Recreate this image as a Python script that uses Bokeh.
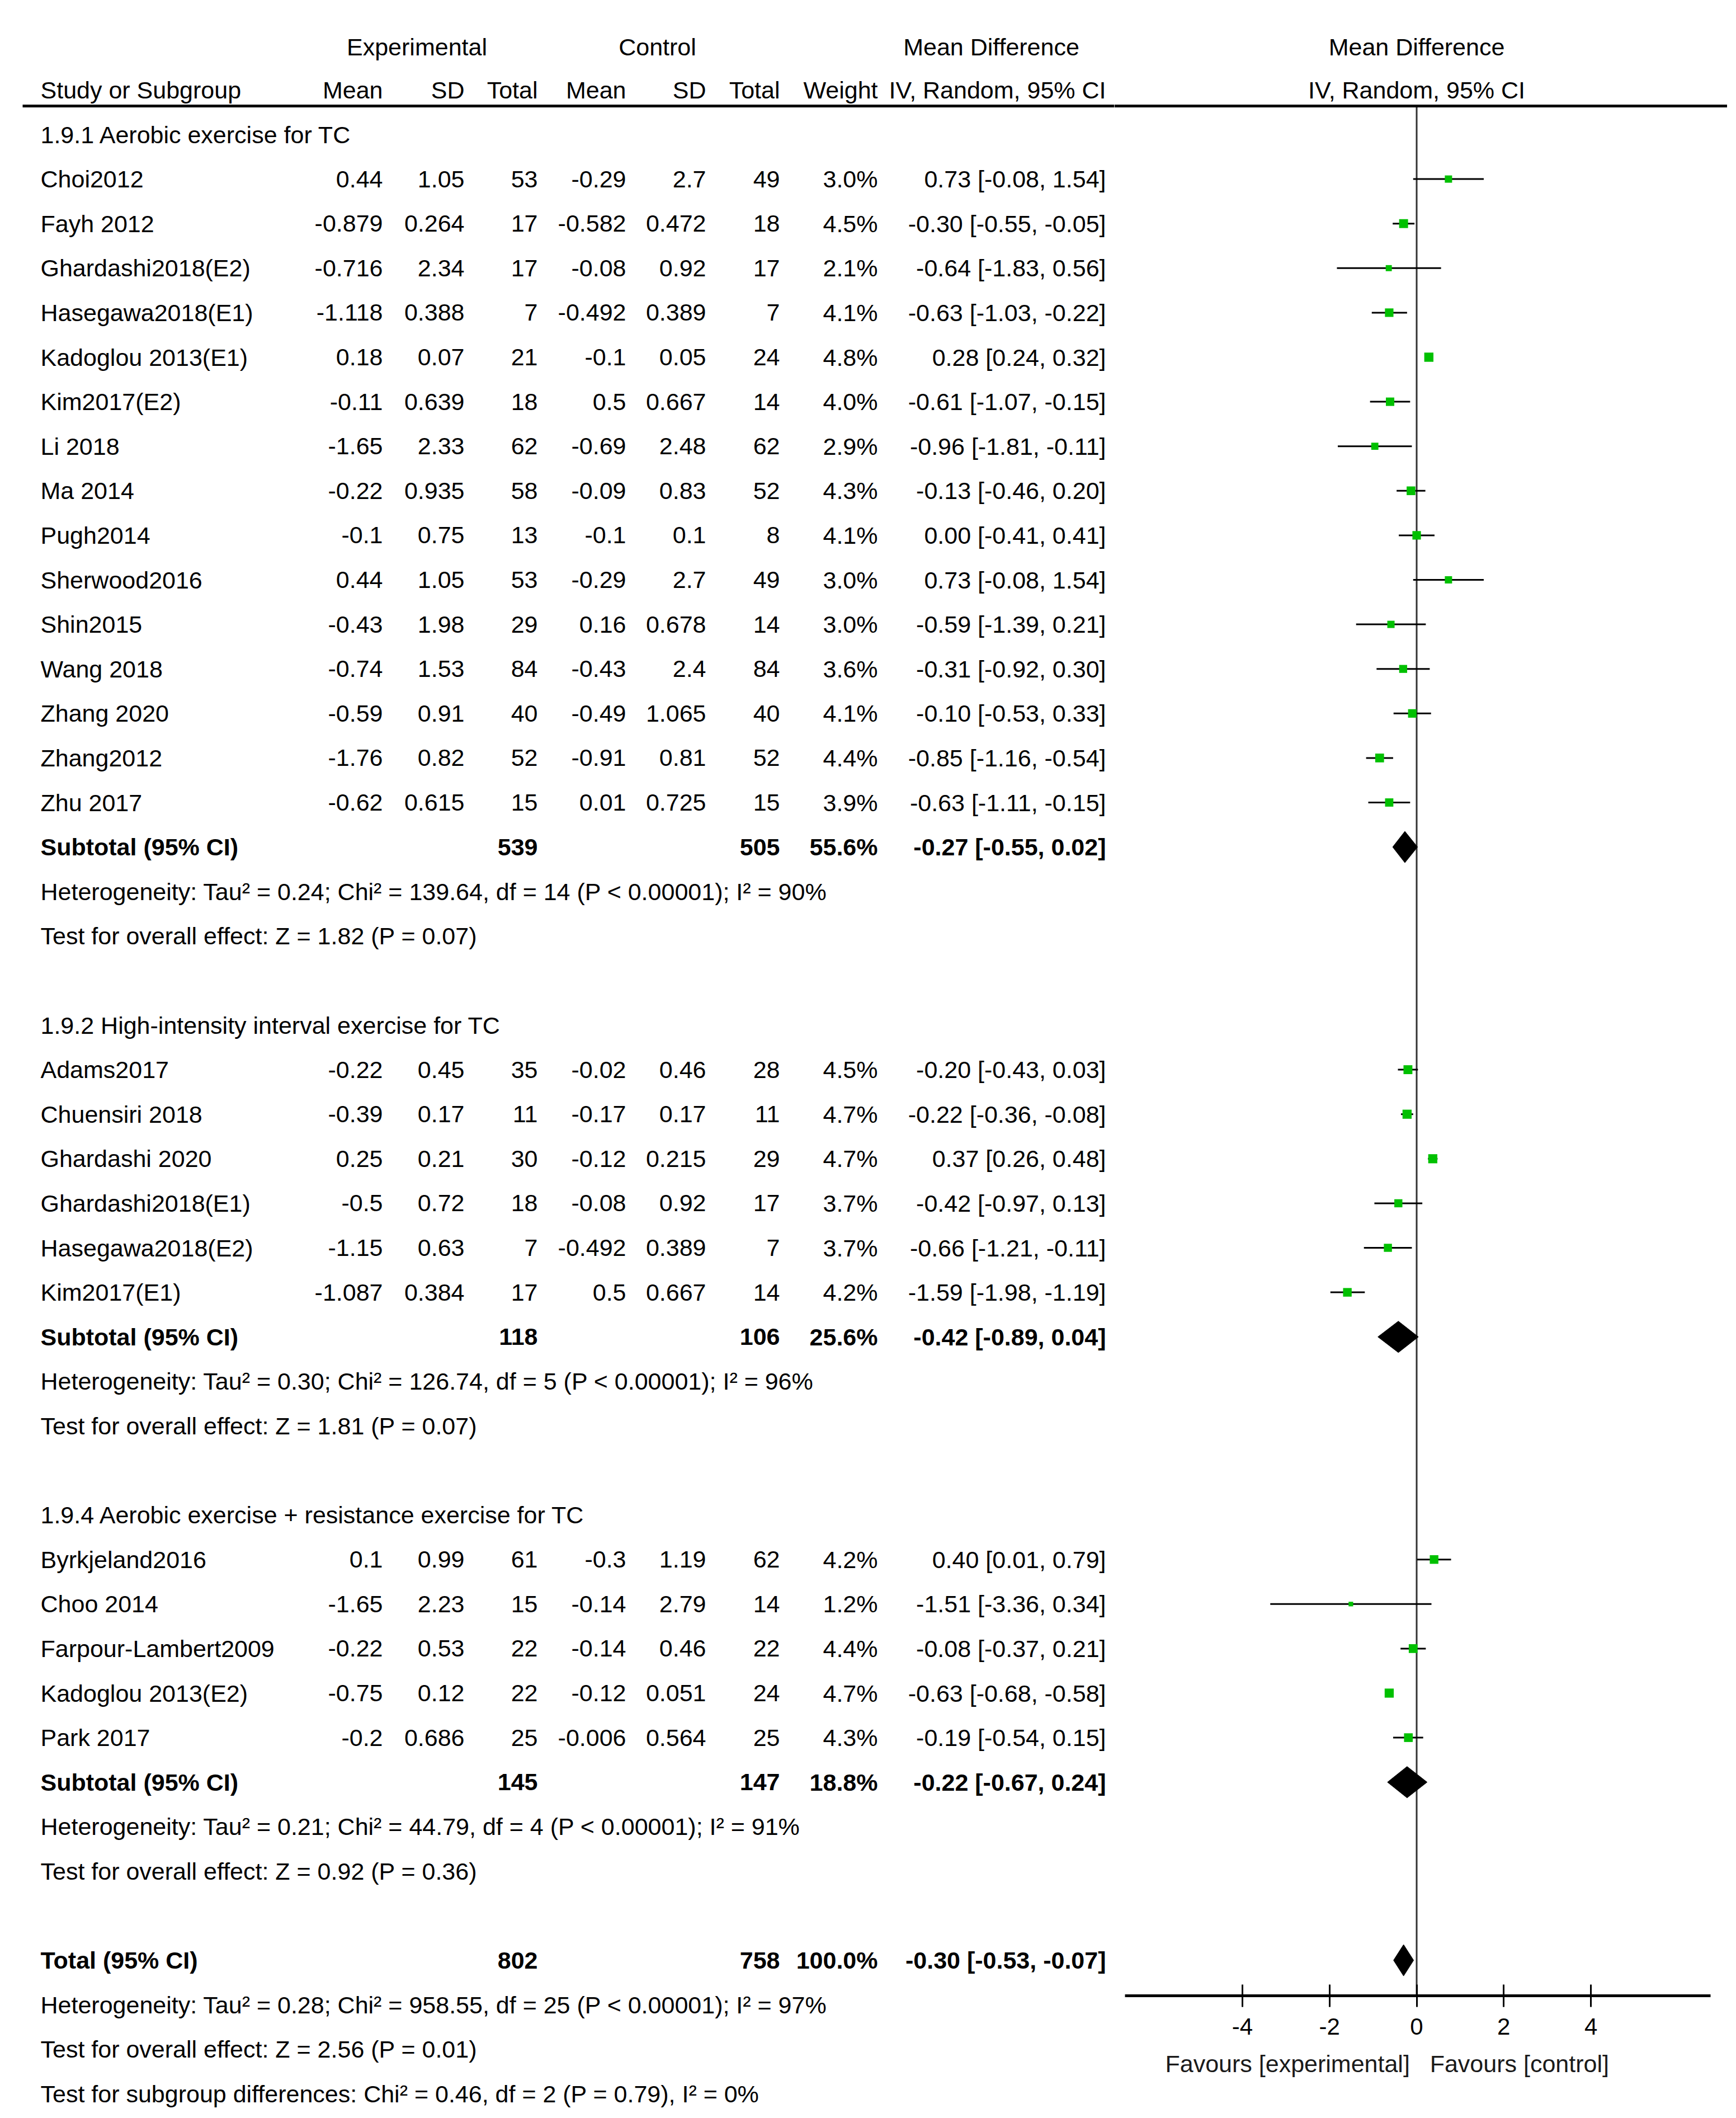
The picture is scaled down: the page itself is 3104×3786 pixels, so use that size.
from bokeh.plotting import figure
from bokeh.layouts import row
from bokeh.models import Range1d, ColumnDataSource, FixedTicker, Title, Span, LinearAxis
from bokeh.core.properties import value
from bokeh.embed import file_html
from bokeh.resources import INLINE
import math

FONT = "Liberation Sans"
FS = "43px"

# ---------------- data ----------------
sec_titles = ["1.9.1 Aerobic exercise for TC",
              "1.9.2 High-intensity interval exercise for TC",
              "1.9.4 Aerobic exercise + resistance exercise for TC"]

s1_study = ["Choi2012", "Fayh 2012", "Ghardashi2018(E2)", "Hasegawa2018(E1)", "Kadoglou 2013(E1)",
            "Kim2017(E2)", "Li 2018", "Ma 2014", "Pugh2014", "Sherwood2016", "Shin2015",
            "Wang 2018", "Zhang 2020", "Zhang2012", "Zhu 2017"]
s1_e_mean = [0.44, -0.879, -0.716, -1.118, 0.18, -0.11, -1.65, -0.22, -0.1, 0.44, -0.43, -0.74, -0.59, -1.76, -0.62]
s1_e_sd = [1.05, 0.264, 2.34, 0.388, 0.07, 0.639, 2.33, 0.935, 0.75, 1.05, 1.98, 1.53, 0.91, 0.82, 0.615]
s1_e_n = [53, 17, 17, 7, 21, 18, 62, 58, 13, 53, 29, 84, 40, 52, 15]
s1_c_mean = [-0.29, -0.582, -0.08, -0.492, -0.1, 0.5, -0.69, -0.09, -0.1, -0.29, 0.16, -0.43, -0.49, -0.91, 0.01]
s1_c_sd = [2.7, 0.472, 0.92, 0.389, 0.05, 0.667, 2.48, 0.83, 0.1, 2.7, 0.678, 2.4, 1.065, 0.81, 0.725]
s1_c_n = [49, 18, 17, 7, 24, 14, 62, 52, 8, 49, 14, 84, 40, 52, 15]
s1_w = [3.0, 4.5, 2.1, 4.1, 4.8, 4.0, 2.9, 4.3, 4.1, 3.0, 3.0, 3.6, 4.1, 4.4, 3.9]
s1_md = [0.73, -0.30, -0.64, -0.63, 0.28, -0.61, -0.96, -0.13, 0.00, 0.73, -0.59, -0.31, -0.10, -0.85, -0.63]
s1_lo = [-0.08, -0.55, -1.83, -1.03, 0.24, -1.07, -1.81, -0.46, -0.41, -0.08, -1.39, -0.92, -0.53, -1.16, -1.11]
s1_hi = [1.54, -0.05, 0.56, -0.22, 0.32, -0.15, -0.11, 0.20, 0.41, 1.54, 0.21, 0.30, 0.33, -0.54, -0.15]

s2_study = ["Adams2017", "Chuensiri 2018", "Ghardashi 2020", "Ghardashi2018(E1)", "Hasegawa2018(E2)", "Kim2017(E1)"]
s2_e_mean = [-0.22, -0.39, 0.25, -0.5, -1.15, -1.087]
s2_e_sd = [0.45, 0.17, 0.21, 0.72, 0.63, 0.384]
s2_e_n = [35, 11, 30, 18, 7, 17]
s2_c_mean = [-0.02, -0.17, -0.12, -0.08, -0.492, 0.5]
s2_c_sd = [0.46, 0.17, 0.215, 0.92, 0.389, 0.667]
s2_c_n = [28, 11, 29, 17, 7, 14]
s2_w = [4.5, 4.7, 4.7, 3.7, 3.7, 4.2]
s2_md = [-0.20, -0.22, 0.37, -0.42, -0.66, -1.59]
s2_lo = [-0.43, -0.36, 0.26, -0.97, -1.21, -1.98]
s2_hi = [0.03, -0.08, 0.48, 0.13, -0.11, -1.19]

s3_study = ["Byrkjeland2016", "Choo 2014", "Farpour-Lambert2009", "Kadoglou 2013(E2)", "Park 2017"]
s3_e_mean = [0.1, -1.65, -0.22, -0.75, -0.2]
s3_e_sd = [0.99, 2.23, 0.53, 0.12, 0.686]
s3_e_n = [61, 15, 22, 22, 25]
s3_c_mean = [-0.3, -0.14, -0.14, -0.12, -0.006]
s3_c_sd = [1.19, 2.79, 0.46, 0.051, 0.564]
s3_c_n = [62, 14, 22, 24, 25]
s3_w = [4.2, 1.2, 4.4, 4.7, 4.3]
s3_md = [0.40, -1.51, -0.08, -0.63, -0.19]
s3_lo = [0.01, -3.36, -0.37, -0.68, -0.54]
s3_hi = [0.79, 0.34, 0.21, -0.58, 0.15]

sub_e_n = [539, 118, 145]
sub_c_n = [505, 106, 147]
sub_w = [55.6, 25.6, 18.8]
sub_md = [-0.27, -0.42, -0.22]
sub_lo = [-0.55, -0.89, -0.67]
sub_hi = [0.02, 0.04, 0.24]
sub_het = ["Heterogeneity: Tau\u00b2 = 0.24; Chi\u00b2 = 139.64, df = 14 (P < 0.00001); I\u00b2 = 90%",
           "Heterogeneity: Tau\u00b2 = 0.30; Chi\u00b2 = 126.74, df = 5 (P < 0.00001); I\u00b2 = 96%",
           "Heterogeneity: Tau\u00b2 = 0.21; Chi\u00b2 = 44.79, df = 4 (P < 0.00001); I\u00b2 = 91%"]
sub_test = ["Test for overall effect: Z = 1.82 (P = 0.07)",
            "Test for overall effect: Z = 1.81 (P = 0.07)",
            "Test for overall effect: Z = 0.92 (P = 0.36)"]

tot_e_n = 802
tot_c_n = 758
tot_w = 100.0
tot_md = -0.30
tot_lo = -0.53
tot_hi = -0.07
tot_texts = ["Heterogeneity: Tau\u00b2 = 0.28; Chi\u00b2 = 958.55, df = 25 (P < 0.00001); I\u00b2 = 97%",
             "Test for overall effect: Z = 2.56 (P = 0.01)",
             "Test for subgroup differences: Chi\u00b2 = 0.46, df = 2 (P = 0.79), I\u00b2 = 0%"]

axis_ticks = [-4, -2, 0, 2, 4]
fav_label = "Favours [experimental]\u00a0\u00a0\u00a0Favours [control]"

# ---------------- layout constants (page px) ----------------
Y0 = 248.0
DY = 79.6
HDR1_Y = 91
HDR2_Y = 168
HDR_LINE_Y = 197
AXIS_Y = 3575
SPLIT_X = 2000
PAGE_R = 3096
PAGE_B = 3778
ZERO_X = 2540.5
PX_PER_UNIT = 77.9
MD_START = (SPLIT_X - ZERO_X) / PX_PER_UNIT
MD_END = (PAGE_R - ZERO_X) / PX_PER_UNIT

NAME_X = 80
COLS = {"em": 692, "esd": 838, "en": 969, "cm": 1127, "csd": 1270, "cn": 1402, "w": 1577, "ci": 1985}

def ypos(k):
    return Y0 + k * DY

def fmt_ci(m, l, h):
    return "%.2f [%.2f, %.2f]" % (m, l, h)

sections = [
    (s1_study, s1_e_mean, s1_e_sd, s1_e_n, s1_c_mean, s1_c_sd, s1_c_n, s1_w, s1_md, s1_lo, s1_hi),
    (s2_study, s2_e_mean, s2_e_sd, s2_e_n, s2_c_mean, s2_c_sd, s2_c_n, s2_w, s2_md, s2_lo, s2_hi),
    (s3_study, s3_e_mean, s3_e_sd, s3_e_n, s3_c_mean, s3_c_sd, s3_c_n, s3_w, s3_md, s3_lo, s3_hi),
]

left_norm = dict(x=[], y=[], t=[])
left_bold = dict(x=[], y=[], t=[])
right_norm = dict(x=[], y=[], t=[])
right_bold = dict(x=[], y=[], t=[])
study_pts = dict(md=[], lo=[], hi=[], y=[], size=[])
diamonds = dict(xs=[], ys=[])
DH = 28

def add(d, x, y, t):
    d["x"].append(x); d["y"].append(y); d["t"].append(t)

def add_diamond(m, l, h, y):
    diamonds["xs"].append([l, m, h, m])
    diamonds["ys"].append([y, y - DH, y, y + DH])

k = 0
for si, sec in enumerate(sections):
    st, em, esd, en, cm, csd, cn, w, md, lo, hi = sec
    add(left_norm, NAME_X, ypos(k), sec_titles[si])
    k += 1
    for i in range(len(st)):
        y = ypos(k)
        add(left_norm, NAME_X, y, st[i])
        add(right_norm, COLS["em"], y, str(em[i]))
        add(right_norm, COLS["esd"], y, str(esd[i]))
        add(right_norm, COLS["en"], y, str(en[i]))
        add(right_norm, COLS["cm"], y, str(cm[i]))
        add(right_norm, COLS["csd"], y, str(csd[i]))
        add(right_norm, COLS["cn"], y, str(cn[i]))
        add(right_norm, COLS["w"], y, "%.1f%%" % w[i])
        add(right_norm, COLS["ci"], y, fmt_ci(md[i], lo[i], hi[i]))
        study_pts["md"].append(md[i]); study_pts["lo"].append(lo[i]); study_pts["hi"].append(hi[i])
        study_pts["y"].append(y); study_pts["size"].append(7.5 * math.sqrt(w[i]))
        k += 1
    y = ypos(k)
    add(left_bold, NAME_X, y, "Subtotal (95% CI)")
    add(right_bold, COLS["en"], y, str(sub_e_n[si]))
    add(right_bold, COLS["cn"], y, str(sub_c_n[si]))
    add(right_bold, COLS["w"], y, "%.1f%%" % sub_w[si])
    add(right_bold, COLS["ci"], y, fmt_ci(sub_md[si], sub_lo[si], sub_hi[si]))
    add_diamond(sub_md[si], sub_lo[si], sub_hi[si], y)
    k += 1
    add(left_norm, NAME_X, ypos(k), sub_het[si]); k += 1
    add(left_norm, NAME_X, ypos(k), sub_test[si]); k += 1
    k += 1

y = ypos(k)
add(left_bold, NAME_X, y, "Total (95% CI)")
add(right_bold, COLS["en"], y, str(tot_e_n))
add(right_bold, COLS["cn"], y, str(tot_c_n))
add(right_bold, COLS["w"], y, "%.1f%%" % tot_w)
add(right_bold, COLS["ci"], y, fmt_ci(tot_md, tot_lo, tot_hi))
add_diamond(tot_md, tot_lo, tot_hi, y)
k += 1
for t in tot_texts:
    add(left_norm, NAME_X, ypos(k), t)
    k += 1

# ---------------- left (table) figure ----------------
pl = figure(frame_width=SPLIT_X - 8, frame_height=PAGE_B - 8, x_range=Range1d(8, SPLIT_X), y_range=Range1d(PAGE_B, 8),
            x_axis_type=None, y_axis_type=None, output_backend="svg", toolbar_location=None, min_border=0)
pl.grid.visible = False
pl.outline_line_color = None

tk = dict(text_font=value(FONT), text_font_size=FS, text_baseline="middle", text_color="#000000")
pl.text(x="x", y="y", text="t", source=ColumnDataSource(left_norm), text_align="left", **tk)
pl.text(x="x", y="y", text="t", source=ColumnDataSource(left_bold), text_align="left", text_font_style="bold", **tk)
pl.text(x="x", y="y", text="t", source=ColumnDataSource(right_norm), text_align="right", **tk)
pl.text(x="x", y="y", text="t", source=ColumnDataSource(right_bold), text_align="right", text_font_style="bold", **tk)

hdr_c = dict(x=[753, 1183, 1780], y=[HDR1_Y] * 3, t=["Experimental", "Control", "Mean Difference"])
pl.text(x="x", y="y", text="t", source=ColumnDataSource(hdr_c), text_align="center", **tk)
hdr_l = dict(x=[NAME_X], y=[HDR2_Y], t=["Study or Subgroup"])
pl.text(x="x", y="y", text="t", source=ColumnDataSource(hdr_l), text_align="left", **tk)
hdr_r = dict(x=[COLS["em"], COLS["esd"], COLS["en"], COLS["cm"], COLS["csd"], COLS["cn"], COLS["w"], COLS["ci"]],
             y=[HDR2_Y] * 8,
             t=["Mean", "SD", "Total", "Mean", "SD", "Total", "Weight", "IV, Random, 95% CI"])
pl.text(x="x", y="y", text="t", source=ColumnDataSource(hdr_r), text_align="right", **tk)
pl.segment(x0=[48], y0=[HDR_LINE_Y], x1=[SPLIT_X], y1=[HDR_LINE_Y], line_color="#000000", line_width=5)

# ---------------- right (forest) figure ----------------
pr = figure(frame_width=PAGE_R - SPLIT_X, frame_height=AXIS_Y - 8,
            x_range=Range1d(MD_START, MD_END), y_range=Range1d(AXIS_Y, 8),
            x_axis_type=None, y_axis_type=None, output_backend="svg", toolbar_location=None, min_border=0)
pr.grid.visible = False
pr.outline_line_color = None

pr.add_layout(Span(location=HDR_LINE_Y, dimension="width", line_color="#000000", line_width=5))
pr.segment(x0=[0], y0=[HDR_LINE_Y], x1=[0], y1=[AXIS_Y], line_color="#333333", line_width=3)

hdr_f = dict(x=[0, 0], y=[HDR1_Y, HDR2_Y], t=["Mean Difference", "IV, Random, 95% CI"])
pr.text(x="x", y="y", text="t", source=ColumnDataSource(hdr_f), text_align="center", **tk)

src_pts = ColumnDataSource(study_pts)
pr.segment(x0="lo", y0="y", x1="hi", y1="y", source=src_pts, line_color="#000000", line_width=3)
pr.scatter(x="md", y="y", size="size", marker="square", source=src_pts,
           fill_color="#00C000", line_color="#00C000", line_width=0)
pr.patches(xs="xs", ys="ys", source=ColumnDataSource(diamonds), fill_color="#000000", line_color="#000000", line_width=1)

ax = LinearAxis(bounds=(-6.69, 6.75), ticker=FixedTicker(ticks=axis_ticks))
ax.major_label_overrides = {t: str(t) for t in axis_ticks}
ax.axis_line_width = 5
ax.axis_line_color = "#000000"
ax.major_tick_line_width = 3
ax.major_tick_line_color = "#000000"
ax.major_tick_in = 20
ax.major_tick_out = 20
ax.minor_tick_line_color = None
ax.major_label_text_font = FONT
ax.major_label_text_font_size = "42px"
ax.major_label_text_color = "#000000"
ax.major_label_standoff = 20
pr.add_layout(ax, "below")

ttl = Title(text=fav_label, align="left", offset=91, text_font=FONT, text_font_size="43px",
            text_font_style="normal", text_color="#1a1a1a", standoff=46)
pr.add_layout(ttl, "below")

layout = row(pl, pr, spacing=0)
open("out.html", "w").write(file_html(layout, INLINE))
